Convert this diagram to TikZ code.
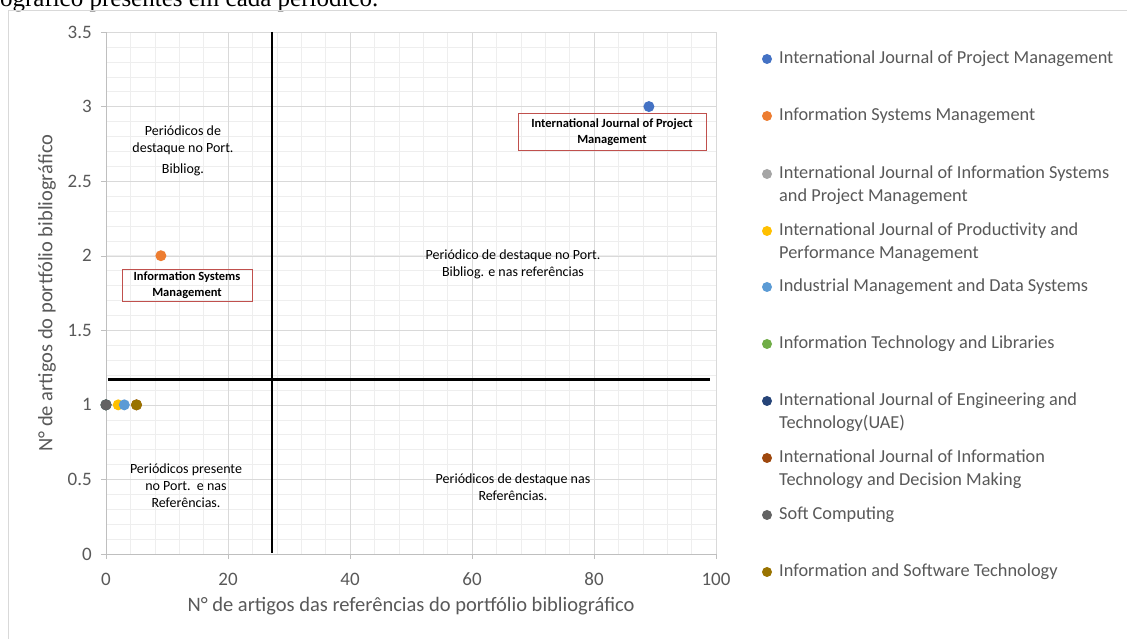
\documentclass[tikz,border=0pt]{standalone}
\usepackage{fontspec}
\setmainfont{Carlito}
\newfontfamily\timesfont{Liberation Serif}
\usetikzlibrary{positioning}

\definecolor{axisgray}{RGB}{89,89,89}
\definecolor{gridminor}{RGB}{238,238,238}
\definecolor{gridmajor}{RGB}{217,217,217}
\definecolor{axisline}{RGB}{191,191,191}
\definecolor{boxred}{RGB}{192,80,77}
\definecolor{s1}{RGB}{68,114,196}
\definecolor{s2}{RGB}{237,125,49}
\definecolor{s3}{RGB}{165,165,165}
\definecolor{s4}{RGB}{255,192,0}
\definecolor{s5}{RGB}{91,155,213}
\definecolor{s6}{RGB}{112,173,71}
\definecolor{s7}{RGB}{38,68,120}
\definecolor{s8}{RGB}{158,72,14}
\definecolor{s9}{RGB}{99,99,99}
\definecolor{s10}{RGB}{153,115,0}

\begin{document}
\begin{tikzpicture}[x=1pt,y=1pt,
  dot/.style={circle,inner sep=0pt,minimum size=11pt},
  legdot/.style={circle,inner sep=0pt,minimum size=10pt},
  legtext/.style={anchor=west,align=left,text=axisgray,inner sep=0pt,font=\fontsize{18.3}{22.5}\selectfont},
  ticklabel/.style={text=axisgray,inner sep=0pt,font=\fontsize{19}{22}\selectfont},
  axistitle/.style={text=axisgray,inner sep=0pt,font=\fontsize{20.5}{24}\selectfont},
  quadtext/.style={align=center,inner sep=0pt,font=\fontsize{14}{17}\selectfont},
  namebox/.style={draw=boxred,line width=0.9pt,align=center,inner sep=0pt,font=\bfseries\fontsize{12.5}{15.5}\selectfont},
  divider/.style={line width=2.4pt}]

\useasboundingbox (0,0) rectangle (1127,639);
\fill[white] (0,0) rectangle (1127,639);

% cut line of the text above the chart
\begin{scope}
\clip (0,0) rectangle (1127,639);
\node[anchor=base west,inner sep=0pt,font=\timesfont\fontsize{25}{29}\selectfont] (caption) at (-46,632) {bibliográfico presentes em cada periódico.};
\end{scope}

\draw[gridmajor] (8,0) -- (8,629) -- (1127,629);

% plot area
\begin{scope}[shift={(106pt,85pt)},x=6.1pt,y=149.14pt]
\draw[gridminor] (0,0) grid[xstep=4,ystep=0.1] (100,3.5);
\draw[gridmajor] (0,0) grid[xstep=20,ystep=0.5] (100,3.5);
\draw[axisline] (0,0) -- (0,3.5);
\draw[axisline] (0,0) -- (100,0);
\foreach \v in {0,0.5,1,1.5,2,2.5,3,3.5}
  \draw[axisline] (0,\v) -- ++(-5pt,0) node[ticklabel,anchor=east,xshift=-9pt] (yt\v) {\v};
\foreach \v in {0,20,40,60,80,100}
  \draw[axisline] (\v,0) -- ++(0,-5pt) node[ticklabel,anchor=center,yshift=-20pt] (xt\v) {\v};

\coordinate (vtop) at (27.2,3.5);
\coordinate (vbot) at (27.2,0.01);
\coordinate (hleft) at (0.3,1.17);
\coordinate (hright) at (99,1.17);
\draw[divider] (vtop) -- (vbot);
\draw[divider] (hleft) -- (hright);

\node[dot,fill=s1] (p1) at (89,3) {};
\node[dot,fill=s2] (p2) at (9,2) {};
\node[dot,fill=s3] (p3) at (0,1) {};
\node[dot,fill=s4] (p4) at (2,1) {};
\node[dot,fill=s5] (p5) at (3,1) {};
\node[dot,fill=s6] (p6) at (0,1) {};
\node[dot,fill=s7] (p7) at (0,1) {};
\node[dot,fill=s8] (p8) at (5,1) {};
\node[dot,fill=s9] (p9) at (0,1) {};
\node[dot,fill=s10] (p10) at (5,1) {};
\end{scope}

\node[axistitle,rotate=90] (ytitle) at (47,346) {N° de artigos do portfólio bibliográfico};
\node[axistitle] (xtitle) at (411,33) {N° de artigos das referências do portfólio bibliográfico};

\node[quadtext] (q1) at (183,488) {Periódicos de\\destaque no Port.\\[4pt]Bibliog.};
\node[quadtext] (q2) at (513,375) {Periódico de destaque no Port.\\Bibliog. e nas referências};
\node[quadtext] (q3) at (186,153) {Periódicos presente\\no Port.\ \ e nas\\Referências.};
\node[quadtext] (q4) at (513,152) {Periódicos de destaque nas\\Referências.};

\node[namebox,minimum width=130pt,minimum height=32pt] (ismbox) at (187,354) {Information Systems\\Management};
\node[namebox,minimum width=188pt,minimum height=37pt] (ijpmbox) at (612,507) {International Journal of Project\\Management};

% legend
\node[legdot,fill=s1] (d1) at (767,580) {};
\node[legtext] (l1) at (779,580) {International Journal of Project Management};
\node[legdot,fill=s2] (d2) at (767,523) {};
\node[legtext] (l2) at (779,523) {Information Systems Management};
\node[legdot,fill=s3] (d3) at (767,465) {};
\node[legtext] (l3) at (779,454) {International Journal of Information Systems\\and Project Management};
\node[legdot,fill=s4] (d4) at (767,408) {};
\node[legtext] (l4) at (779,397) {International Journal of Productivity and\\Performance Management};
\node[legdot,fill=s5] (d5) at (767,352) {};
\node[legtext] (l5) at (779,352) {Industrial Management and Data Systems};
\node[legdot,fill=s6] (d6) at (767,295) {};
\node[legtext] (l6) at (779,295) {Information Technology and Libraries};
\node[legdot,fill=s7] (d7) at (767,238) {};
\node[legtext] (l7) at (779,227) {International Journal of Engineering and\\Technology(UAE)};
\node[legdot,fill=s8] (d8) at (767,181) {};
\node[legtext] (l8) at (779,170) {International Journal of Information\\Technology and Decision Making};
\node[legdot,fill=s9] (d9) at (767,124) {};
\node[legtext] (l9) at (779,124) {Soft Computing};
\node[legdot,fill=s10] (d10) at (767,67) {};
\node[legtext] (l10) at (779,67) {Information and Software Technology};
\end{tikzpicture}
\end{document}
